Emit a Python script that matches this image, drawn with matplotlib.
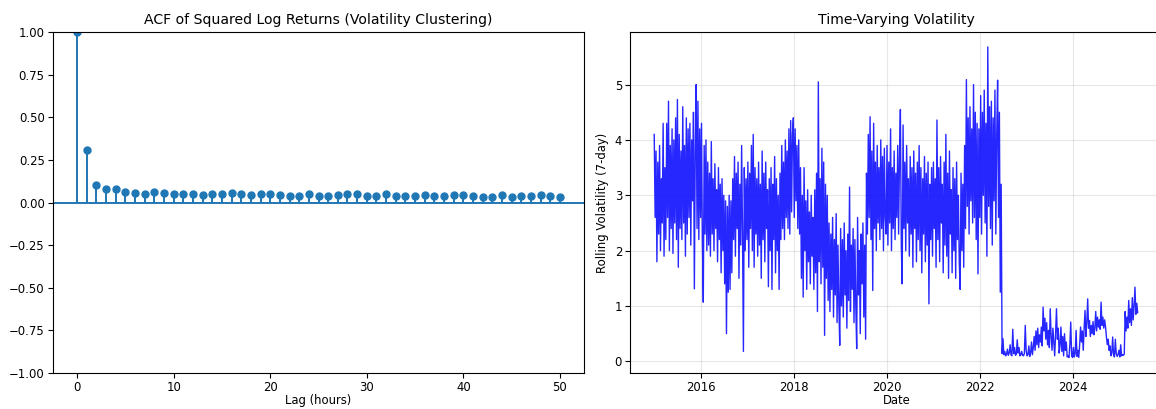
import numpy as np
import pandas as pd
import matplotlib
matplotlib.use("Agg")
import matplotlib.pyplot as plt
import matplotlib.dates as mdates

# ---------------- ACF data ----------------
lags = list(range(51))
acf_values = [1.0, 0.309, 0.102, 0.079, 0.079, 0.059, 0.055, 0.049, 0.059, 0.053,
              0.051, 0.051, 0.047, 0.045, 0.047, 0.049, 0.053, 0.047, 0.043, 0.047,
              0.047, 0.043, 0.041, 0.039, 0.047, 0.039, 0.039, 0.043, 0.047, 0.047,
              0.041, 0.041, 0.049, 0.039, 0.039, 0.037, 0.045, 0.037, 0.039, 0.043,
              0.045, 0.039, 0.033, 0.033, 0.045, 0.035, 0.037, 0.039, 0.043, 0.039,
              0.035]

# ---------------- Rolling volatility (weekly readings) ----------------
vol_start = "2015-01-01"
vol_2015 = [4.1, 2.6, 3.8, 1.8, 3.6, 2.3, 3.9, 2.0, 3.3, 2.5, 4.3, 1.9, 3.5,
            2.2, 4.3, 2.6, 4.7, 2.0, 3.9, 2.4, 4.2, 1.95, 4.0, 2.5, 4.4, 2.2,
            4.73, 1.7, 4.1, 2.4, 3.8, 2.2, 4.6, 2.5, 3.9, 1.9, 4.4, 2.3, 4.2,
            2.6, 4.3, 2.1, 4.0, 2.9, 4.5, 1.31, 3.8, 5.0, 2.4, 4.7, 2.2, 4.2]
vol_2016 = [2.6, 4.3, 2.2, 1.07, 3.9, 2.3, 4.0, 2.0, 3.6,
            2.1, 3.4, 1.9, 3.97, 2.3, 3.3, 2.0, 3.57, 2.4, 3.1, 1.8, 3.5, 2.2, 3.2,
            1.6, 3.3, 2.0, 3.0, 1.4, 2.9, 0.5, 2.8, 1.25, 3.0, 1.3, 2.9,
            1.6, 3.3, 2.2, 3.7, 1.9, 3.4, 2.4, 3.6, 1.5, 3.2, 2.1, 3.9, 2.3, 0.18, 3.5, 2.0, 3.3]
vol_2017 = [2.2, 3.6, 1.7, 3.4, 2.4, 3.9, 2.0, 4.1, 1.7, 3.5, 2.3, 3.3, 1.9,
            3.6, 2.1, 3.2, 1.5, 3.8, 2.2, 3.4, 1.8, 3.6, 2.4, 3.1, 1.35, 3.3,
            2.0, 3.5, 1.3, 3.2, 2.2, 3.7, 1.6, 3.3, 2.0, 3.0, 1.3, 3.4, 2.2,
            3.9, 2.4, 3.6, 2.2, 4.0, 2.6, 3.8, 2.4, 4.2, 2.3, 4.35, 2.7, 4.1]
vol_2018 = [4.4, 2.6, 4.2, 2.9, 3.9, 2.4, 4.0, 2.3, 3.5,
            1.5, 3.0, 1.16, 3.5, 2.0, 2.9, 1.3, 3.1, 1.8, 2.7, 1.4, 3.0, 1.9, 2.6, 1.3, 3.1,
            1.6, 3.4, 0.9, 5.05, 1.8, 3.3, 1.4, 3.85, 1.7, 3.6, 0.47, 3.2,
            1.5, 3.0, 1.1, 2.5, 0.9, 2.3, 1.3, 2.6, 0.8, 2.2, 1.2, 2.67, 0.7, 2.1, 1.0]
vol_2019 = [0.29, 2.4, 1.0, 2.2, 0.8, 2.5, 1.2, 2.0, 0.6, 2.3, 1.1, 3.15, 0.9, 2.1, 1.3,
            2.4, 0.7, 2.2, 1.0, 0.23, 2.6, 1.2, 2.0, 0.5, 2.3, 1.4, 2.5, 0.8, 2.1, 0.4,
            3.4, 2.3, 4.1, 2.6, 4.42, 2.2, 3.8, 1.28, 4.3, 2.4, 3.6, 2.0, 3.9, 2.5, 3.5,
            2.2, 4.0, 2.4, 3.7, 2.0, 3.85, 2.6]
vol_2020 = [2.3, 3.9, 2.1, 3.6, 2.5, 4.2, 2.0, 3.5, 2.4, 3.8, 2.2, 3.4, 2.6,
            3.9, 2.3, 3.7, 4.55, 2.1, 1.4, 4.27, 2.4, 3.6, 2.0, 3.9, 2.5, 3.3,
            1.9, 3.7, 2.3, 3.5, 1.7, 3.8, 2.4, 3.4, 1.8, 3.6, 2.2, 3.9, 2.0,
            3.5, 1.6, 3.3, 2.3, 3.7, 1.8, 3.4, 2.1, 3.6, 1.04, 3.2, 2.2, 3.5]
vol_2021 = [1.9, 3.6, 2.4, 3.3, 1.7, 4.36, 2.2, 3.5, 1.8, 3.7, 2.5, 3.2, 1.6,
            3.6, 2.1, 4.1, 1.9, 3.4, 1.5, 3.8, 2.3, 3.1, 1.6, 3.5, 2.0, 3.3,
            1.5, 3.6, 2.2, 3.0, 1.8, 1.3, 3.4, 2.0, 3.2, 1.7,
            3.9, 2.4, 5.09, 2.8, 4.4, 2.3, 4.6, 2.9, 4.2, 2.5, 5.0, 2.6, 4.5, 2.2, 4.3, 1.58]
vol_2022 = [4.2, 2.6, 4.8, 2.3, 4.5, 3.0, 4.9, 2.5, 4.3, 1.9, 5.68, 2.8, 4.6, 2.4, 4.7,
            2.1, 4.4, 2.9, 4.9, 2.3, 4.1, 5.08, 2.6, 4.5, 1.25, 3.2,
            0.14, 0.41, 0.12, 0.18, 0.10, 0.13, 0.22, 0.11, 0.15, 0.30, 0.12, 0.10, 0.58,
            0.14, 0.25, 0.11, 0.13, 0.39, 0.15, 0.25, 0.10, 0.12, 0.18, 0.11, 0.10, 0.14]
vol_2023 = [0.65, 0.20, 0.10, 0.12, 0.28, 0.09, 0.15, 0.35, 0.12, 0.25,
            0.45, 0.20, 0.55, 0.30, 0.60, 0.25, 0.48, 0.35, 0.62, 0.28, 0.98,
            0.55, 0.78, 0.40, 0.70, 0.30,
            0.56, 0.25, 0.95, 0.45, 0.20, 0.60, 0.35, 0.10,
            0.50, 0.95, 0.40, 0.60, 0.15, 0.30,
            0.62, 0.18, 0.45, 0.10, 0.50, 0.20, 0.35,
            0.08, 0.10, 0.07, 0.30, 0.71]
vol_2024 = [0.10, 0.07, 0.25, 0.08, 0.15, 0.56, 0.09, 0.20, 0.07, 0.30,
            0.62, 0.35, 0.55, 0.20, 0.60,
            0.92, 0.45, 0.70, 1.13, 0.60,
            0.74, 0.45, 0.65, 0.50, 0.72, 0.48, 0.60, 0.90,
            0.55, 0.80, 0.62, 0.75, 0.58, 1.07,
            0.65, 0.80, 0.60, 0.75, 0.62,
            0.44, 0.30, 0.40, 0.20, 0.28,
            0.10, 0.15, 0.44, 0.12, 0.08, 0.40, 0.14, 0.09]
vol_2025 = [0.12, 0.20, 0.08, 0.30, 0.10, 0.12, 0.11, 0.13,
            0.90, 0.55, 0.80, 0.60, 1.10, 0.70, 0.95, 0.65, 1.15, 0.75, 1.00, 1.34,
            0.85, 1.05, 0.88]

volatility = (vol_2015 + vol_2016 + vol_2017 + vol_2018 + vol_2019 + vol_2020 +
              vol_2021 + vol_2022 + vol_2023 + vol_2024 + vol_2025)
dates = pd.date_range(vol_start, periods=len(volatility), freq="7D")

# ---------------- Figure ----------------
W, H, DPI = 1156, 409, 100
fig = plt.figure(figsize=(W / DPI, H / DPI), dpi=DPI)

tick_fs = 8.4
label_fs = 8.4
title_fs = 10.1

ax1 = fig.add_axes([53 / W, 36 / H, 531 / W, 341 / H])
ax2 = fig.add_axes([630.4 / W, 36 / H, 532.6 / W, 341 / H])

c0 = "#1f77b4"
ax1.vlines(lags, 0, acf_values, color=c0, lw=1.4)
ax1.plot(lags, acf_values, "o", color=c0, markersize=5)
ax1.axhline(0, color=c0, lw=1.4)
ax1.set_ylim(-1, 1)
ax1.set_xlim(-2.5, 52.5)
ax1.set_yticks(np.arange(-1, 1.01, 0.25))
ax1.set_xticks([0, 10, 20, 30, 40, 50])
ax1.set_title("ACF of Squared Log Returns (Volatility Clustering)", fontsize=title_fs)
ax1.set_xlabel("Lag (hours)", fontsize=label_fs, labelpad=0)
ax1.tick_params(labelsize=tick_fs, pad=2.5)

ax2.plot(dates, volatility, color="blue", lw=1.0, alpha=0.85)
ax2.set_title("Time-Varying Volatility", fontsize=title_fs)
ax2.set_xlabel("Date", fontsize=label_fs, labelpad=0)
ax2.set_ylabel("Rolling Volatility (7-day)", fontsize=label_fs)
ax2.grid(True, alpha=0.3)
ax2.xaxis.set_major_locator(mdates.YearLocator(2))
ax2.xaxis.set_major_formatter(mdates.DateFormatter("%Y"))
ax2.set_yticks([0, 1, 2, 3, 4, 5])
ax2.set_ylim(-0.21, 5.95)
ax2.set_xlim(pd.Timestamp("2014-06-28"), pd.Timestamp("2025-12-07"))
ax2.tick_params(labelsize=tick_fs, pad=2.5)

fig.savefig("out.png", dpi=DPI)
